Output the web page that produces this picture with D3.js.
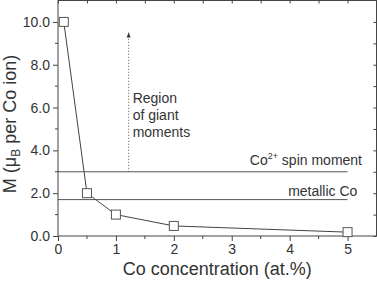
<!DOCTYPE html>
<html>
<head>
<meta charset="utf-8">
<script src="https://cdn.jsdelivr.net/npm/d3@7"></script>
<style>
  body { margin: 0; background: #fff; }
  text { font-family: "Liberation Sans", Arial, sans-serif; fill: #333; }
</style>
</head>
<body>
<div id="content"></div>
<script>
// Data.
var concentration = [0.1, 0.5, 1, 2, 5];
var moment = [10.0, 2.0, 1.0, 0.47, 0.18];
var refLabels = ['Co', 'metallic Co'];
var refValues = [3.0, 1.7];
var refRange = [0, 5];
var arrowX = 1.22;
var arrowFrom = 3.0, arrowTo = 9.5;
var xTicks = [0, 1, 2, 3, 4, 5];
var yTicks = [0, 2, 4, 6, 8, 10];

var W = 377, H = 281;
var margin = {left : 58, right : 0.5, top : 0.5, bottom : 45};
var ink = '#444';

var svg = d3.select('#content').append('svg')
    .attr('width', W).attr('height', H);

var x = d3.scaleLinear().domain([0, 5.5]).range([margin.left, W - margin.right]);
var y = d3.scaleLinear().domain([0, 11]).range([H - margin.bottom, margin.top]);

// Frame.
svg.append('rect')
    .attr('x', x(0)).attr('y', y(11))
    .attr('width', x(5.5) - x(0)).attr('height', y(0) - y(11))
    .attr('fill', 'none').attr('stroke', ink).attr('stroke-width', 1);

// Bottom axis, ticks outward.
var xAxis = svg.append('g')
    .attr('transform', 'translate(0,' + y(0) + ')')
    .call(d3.axisBottom(x).tickValues(xTicks).tickSize(5).tickPadding(3)
          .tickFormat(d3.format('d')));
xAxis.append('g').selectAll('line')
    .data([0.5, 1.5, 2.5, 3.5, 4.5]).enter().append('line')
    .attr('x1', function(d) { return x(d); }).attr('x2', function(d) { return x(d); })
    .attr('y1', 0).attr('y2', 3).attr('stroke', ink);

// Left axis, ticks outward.
var yAxis = svg.append('g')
    .attr('transform', 'translate(' + x(0) + ',0)')
    .call(d3.axisLeft(y).tickValues(yTicks).tickSize(5).tickPadding(3)
          .tickFormat(d3.format('.1f')));
yAxis.append('g').selectAll('line')
    .data([1, 3, 5, 7, 9]).enter().append('line')
    .attr('y1', function(d) { return y(d); }).attr('y2', function(d) { return y(d); })
    .attr('x1', 0).attr('x2', -3).attr('stroke', ink);

[xAxis, yAxis].forEach(function(a) {
  a.select('.domain').remove();
  a.selectAll('line').attr('stroke', ink);
  a.attr('font-size', 14).attr('font-family', '"Liberation Sans", Arial, sans-serif');
  a.selectAll('text').attr('fill', '#333');
});

// Top and right axes, ticks inward, no labels.
var topAxis = svg.append('g').attr('transform', 'translate(0,' + y(11) + ')')
    .call(d3.axisBottom(x).tickValues(d3.range(0, 5.5, 0.5)).tickSize(3).tickFormat(''));
var rightAxis = svg.append('g').attr('transform', 'translate(' + x(5.5) + ',0)')
    .call(d3.axisLeft(y).tickValues(d3.range(0, 11, 1)).tickSize(3).tickFormat(''));
[topAxis, rightAxis].forEach(function(a) {
  a.select('.domain').remove();
  a.selectAll('line').attr('stroke', ink);
});

// Reference lines.
svg.selectAll('.ref').data(refValues).enter().append('line')
    .attr('class', 'ref')
    .attr('x1', x(refRange[0])).attr('x2', x(refRange[1]))
    .attr('y1', function(d) { return y(d); }).attr('y2', function(d) { return y(d); })
    .attr('stroke', '#555').attr('stroke-width', 1);

var co = svg.append('text')
    .attr('x', x(5.25)).attr('y', y(refValues[0]) - 7)
    .attr('text-anchor', 'end').attr('font-size', 14);
co.append('tspan').text(refLabels[0]);
co.append('tspan').attr('dy', -6).attr('font-size', 9).text('2+');
co.append('tspan').attr('dy', 6).text(' spin moment');

svg.append('text')
    .attr('x', x(5.17)).attr('y', y(refValues[1]) - 4)
    .attr('text-anchor', 'end').attr('font-size', 14)
    .text(refLabels[1]);

// Dotted arrow.
svg.append('line')
    .attr('x1', x(arrowX)).attr('x2', x(arrowX))
    .attr('y1', y(arrowFrom)).attr('y2', y(arrowTo))
    .attr('stroke', '#555').attr('stroke-dasharray', '1,2');
svg.append('path')
    .attr('d', 'M' + (x(arrowX) - 2) + ',' + (y(arrowTo) + 5) + 'L' + x(arrowX) + ',' + y(arrowTo) +
         'L' + (x(arrowX) + 2) + ',' + (y(arrowTo) + 5) + 'Z')
    .attr('fill', '#333');

var region = svg.append('text').attr('font-size', 14);
['Region', 'of giant', 'moments'].forEach(function(s, i) {
  region.append('tspan').attr('x', x(arrowX) + 4).attr('y', 103 + i * 17).text(s);
});

// Data line and square markers.
var pts = concentration.map(function(c, i) { return [c, moment[i]]; });
svg.append('path').datum(pts)
    .attr('fill', 'none').attr('stroke', '#444').attr('stroke-width', 1)
    .attr('d', d3.line().x(function(d) { return x(d[0]); }).y(function(d) { return y(d[1]); }));
svg.selectAll('.pt').data(pts).enter().append('rect')
    .attr('class', 'pt')
    .attr('x', function(d) { return x(d[0]) - 4.5; })
    .attr('y', function(d) { return y(d[1]) - 4.5; })
    .attr('width', 9).attr('height', 9)
    .attr('fill', '#fff').attr('stroke', '#555').attr('stroke-width', 1);

// Axis titles.
svg.append('text')
    .attr('x', (x(0) + x(5.5)) / 2).attr('y', 275)
    .attr('text-anchor', 'middle').attr('font-size', 18)
    .text('Co concentration (at.%)');

var yl = svg.append('text')
    .attr('transform', 'translate(16,' + 124 + ') rotate(-90)')
    .attr('text-anchor', 'middle').attr('font-size', 18);
yl.append('tspan').text('M (\u03bc');
yl.append('tspan').attr('dy', 4).attr('font-size', 12).text('B');
yl.append('tspan').attr('dy', -4).text(' per Co ion)');
</script>
</body>
</html>
